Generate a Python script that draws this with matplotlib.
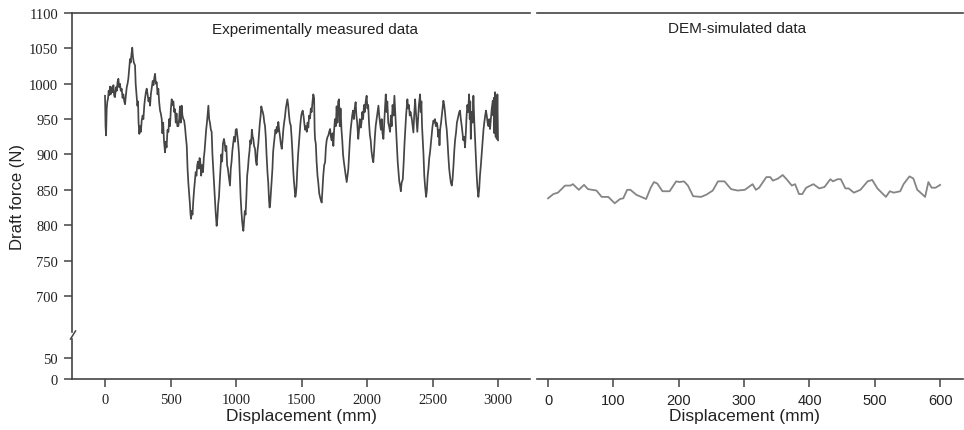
import numpy as np
import matplotlib
matplotlib.use("Agg")
import matplotlib.pyplot as plt

# datos (desplazamiento en mm, fuerza en N)
exp_x = [0, 4, 8, 13, 18, 23, 28, 33, 38, 43, 51, 58, 64, 70, 76, 84, 90, 96, 102, 108,
         114, 120, 127, 134, 140, 147, 153, 160, 166, 172, 178, 184, 191, 196, 202, 208, 213, 220, 229, 234,
         240, 247, 252, 256, 262, 268, 274, 280, 287, 293, 300, 306, 312, 318, 325, 332, 338, 344, 350, 357,
         364, 370, 376, 382, 388, 395, 401, 407, 413, 420, 426, 433, 438, 444, 450, 458, 464, 470, 477, 484,
         490, 496, 503, 509, 515, 522, 528, 534, 540, 546, 552, 560, 566, 572, 578, 585, 591, 598, 604, 611,
         617, 624, 630, 636, 642, 648, 653, 657, 662, 668, 674, 680, 686, 692, 698, 704, 710, 716, 722, 728,
         734, 740, 748, 754, 760, 766, 772, 778, 784, 789, 795, 801, 808, 814, 820, 826, 832, 838, 844, 848,
         852, 858, 864, 870, 876, 882, 888, 894, 900, 908, 914, 920, 926, 932, 938, 944, 950, 954, 960, 966,
         972, 978, 985, 992, 998, 1005, 1011, 1017, 1023, 1029, 1035, 1041, 1047, 1053, 1056, 1061, 1067, 1073, 1079, 1085,
         1091, 1097, 1103, 1109, 1115, 1121, 1127, 1132, 1138, 1145, 1152, 1158, 1164, 1170, 1176, 1182, 1188, 1193, 1198, 1204,
         1210, 1216, 1221, 1227, 1233, 1240, 1246, 1252, 1256, 1260, 1266, 1272, 1278, 1283, 1289, 1295, 1301, 1306, 1311, 1317,
         1323, 1329, 1336, 1342, 1349, 1355, 1361, 1367, 1373, 1380, 1386, 1392, 1398, 1405, 1411, 1418, 1424, 1430, 1436, 1442,
         1448, 1452, 1456, 1462, 1468, 1474, 1480, 1486, 1492, 1498, 1504, 1509, 1515, 1521, 1527, 1533, 1540, 1546, 1552, 1558,
         1565, 1571, 1577, 1584, 1590, 1596, 1600, 1603, 1609, 1615, 1622, 1628, 1635, 1641, 1648, 1654, 1660, 1666, 1673, 1680,
         1686, 1692, 1699, 1705, 1711, 1718, 1724, 1730, 1737, 1743, 1749, 1755, 1762, 1768, 1774, 1780, 1786, 1792, 1798, 1805,
         1811, 1817, 1823, 1830, 1836, 1845, 1851, 1857, 1863, 1869, 1875, 1881, 1887, 1893, 1900, 1906, 1913, 1919, 1925, 1933,
         1939, 1945, 1952, 1958, 1964, 1970, 1977, 1983, 1990, 1997, 2003, 2009, 2015, 2022, 2028, 2034, 2041, 2048, 2054, 2060,
         2066, 2073, 2080, 2087, 2093, 2099, 2106, 2112, 2118, 2125, 2131, 2137, 2143, 2149, 2155, 2162, 2168, 2176, 2182, 2188,
         2195, 2202, 2209, 2215, 2221, 2228, 2234, 2240, 2246, 2252, 2258, 2264, 2273, 2280, 2286, 2292, 2298, 2304, 2308, 2314,
         2320, 2326, 2332, 2342, 2348, 2354, 2360, 2367, 2373, 2379, 2384, 2390, 2396, 2405, 2410, 2415, 2420, 2425, 2431, 2437,
         2443, 2451, 2457, 2463, 2469, 2475, 2481, 2487, 2494, 2500, 2507, 2513, 2519, 2525, 2531, 2537, 2543, 2549, 2553, 2558,
         2565, 2571, 2577, 2583, 2589, 2595, 2602, 2608, 2614, 2620, 2627, 2633, 2640, 2647, 2653, 2660, 2666, 2672, 2680, 2686,
         2692, 2698, 2704, 2710, 2716, 2723, 2729, 2735, 2742, 2748, 2754, 2760, 2766, 2772, 2779, 2784, 2788, 2792, 2798, 2805,
         2812, 2818, 2824, 2830, 2836, 2842, 2850, 2856, 2862, 2869, 2876, 2882, 2889, 2895, 2902, 2908, 2914, 2920, 2927, 2933,
         2939, 2945, 2952, 2960, 2964, 2968, 2972, 2977, 2982, 2986, 2990, 2995, 3000]
exp_y = [983, 940, 927, 965, 975, 979, 990, 984, 996, 985, 995, 988, 998, 983, 981, 995, 990, 1003, 1007, 995,
         1000, 990, 993, 980, 985, 975, 971, 985, 995, 1000, 1007, 1020, 1035, 1030, 1042, 1051, 1038, 1030, 1026, 1000,
         985, 969, 975, 945, 929, 940, 932, 948, 955, 950, 970, 980, 988, 993, 985, 975, 980, 969, 985, 995,
         1004, 998, 1008, 1014, 1000, 1002, 985, 993, 975, 962, 958, 950, 930, 945, 920, 903, 918, 910, 935, 932,
         950, 940, 965, 978, 970, 975, 960, 964, 945, 958, 940, 940, 950, 968, 945, 969, 955, 950, 948, 938,
         925, 912, 880, 860, 845, 830, 815, 809, 820, 815, 835, 850, 862, 875, 870, 885, 890, 880, 895, 888,
         870, 885, 875, 895, 905, 920, 935, 945, 958, 969, 950, 945, 935, 932, 900, 880, 860, 840, 820, 810,
         799, 810, 830, 840, 862, 880, 900, 890, 915, 922, 915, 905, 912, 885, 880, 870, 862, 856, 880, 890,
         905, 915, 925, 918, 935, 936, 925, 915, 900, 870, 840, 820, 805, 795, 792, 805, 820, 815, 840, 870,
         880, 895, 905, 920, 915, 935, 925, 922, 912, 908, 890, 885, 905, 915, 930, 945, 955, 968, 964, 960,
         955, 945, 941, 925, 900, 875, 860, 835, 825, 828, 845, 860, 880, 903, 915, 925, 935, 930, 939, 932,
         946, 935, 925, 915, 908, 920, 935, 945, 952, 965, 972, 978, 970, 955, 945, 941, 925, 905, 880, 862,
         850, 840, 842, 855, 880, 900, 915, 930, 945, 955, 960, 962, 955, 945, 935, 940, 932, 945, 938, 955,
         951, 965, 960, 975, 985, 980, 935, 922, 915, 890, 870, 860, 845, 840, 835, 832, 850, 870, 885, 889,
         910, 920, 925, 927, 932, 936, 925, 920, 930, 912, 935, 950, 940, 968, 945, 975, 978, 940, 965, 935,
         920, 900, 890, 880, 872, 861, 870, 879, 900, 920, 935, 945, 955, 962, 950, 965, 974, 955, 945, 922,
         935, 950, 938, 945, 960, 950, 970, 960, 975, 983, 965, 970, 945, 927, 920, 905, 895, 889, 905, 925,
         940, 950, 960, 969, 955, 945, 935, 950, 930, 922, 945, 965, 985, 960, 975, 945, 940, 932, 955, 940,
         970, 955, 983, 960, 935, 910, 890, 875, 862, 856, 848, 860, 865, 890, 915, 935, 955, 970, 978, 965,
         970, 955, 960, 950, 940, 931, 955, 978, 960, 945, 932, 950, 970, 985, 960, 975, 940, 922, 900, 870,
         855, 840, 850, 870, 880, 895, 903, 915, 930, 940, 948, 945, 950, 940, 945, 941, 925, 935, 913, 935,
         945, 955, 965, 976, 970, 960, 945, 936, 920, 900, 880, 870, 860, 856, 865, 885, 905, 920, 932, 945,
         950, 955, 960, 962, 950, 940, 930, 920, 925, 910, 930, 955, 970, 960, 985, 950, 975, 922, 960, 945,
         983, 950, 925, 900, 875, 855, 840, 850, 870, 885, 903, 920, 935, 945, 955, 962, 955, 945, 940, 950,
         936, 950, 965, 976, 955, 980, 930, 988, 925, 975, 922, 985, 920]

dem_x = [0, 8, 15, 26, 34, 38, 47, 55, 61, 74, 82, 92, 102, 110, 115, 121, 126, 135, 150, 157,
         162, 167, 175, 186, 196, 201, 208, 214, 222, 234, 242, 252, 260, 266, 270, 280, 290, 301, 313, 318,
         323, 334, 340, 344, 352, 359, 365, 373, 378, 384, 389, 395, 406, 415, 423, 432, 436, 443, 448, 455,
         460, 468, 478, 489, 496, 504, 517, 523, 529, 539, 544, 553, 559, 565, 570, 577, 582, 587, 593, 600]
dem_y = [838, 844, 846, 856, 856, 858, 850, 857, 851, 849, 840, 840, 831, 837, 838, 850, 850, 843, 837, 853,
         861, 859, 848, 848, 862, 861, 862, 856, 841, 840, 843, 849, 862, 862, 862, 851, 849, 850, 858, 850,
         853, 868, 868, 863, 866, 871, 865, 856, 858, 844, 844, 853, 858, 852, 854, 865, 862, 865, 865, 852,
         852, 846, 850, 862, 864, 852, 840, 848, 846, 848, 858, 869, 866, 850, 846, 840, 861, 853, 853, 857]

exp_xticks = [0, 500, 1000, 1500, 2000, 2500, 3000]
dem_xticks = [0, 100, 200, 300, 400, 500, 600]
top_yticks = [700, 750, 800, 850, 900, 950, 1000, 1050, 1100]
low_yticks = [0, 50]

W, H = 964, 431
fig = plt.figure(figsize=(W / 100, H / 100), dpi=100)

def caja(x0, x1, y0, y1):
    # de pixeles a fraccion de figura
    return [x0 / W, 1 - y1 / H, (x1 - x0) / W, (y1 - y0) / H]

gris = '#444444'
lw_sp = 1.2
serif = 'Liberation Serif'
sans = 'Liberation Sans'

ax_et = fig.add_axes(caja(72, 530, 14, 333))   # experimental, arriba
ax_eb = fig.add_axes(caja(72, 530, 340, 380))  # experimental, abajo
ax_dt = fig.add_axes(caja(537, 963, 14, 333))  # DEM, arriba
ax_db = fig.add_axes(caja(537, 963, 340, 380))  # DEM, abajo

for ax in (ax_et, ax_eb, ax_dt, ax_db):
    ax.set_facecolor('none')
    for s in ax.spines.values():
        s.set_visible(False)
        s.set_linewidth(lw_sp)
        s.set_color(gris)
    ax.tick_params(direction='out', length=6, width=1.1, color=gris,
                   labelcolor='#222222', labelsize=10.5, pad=4)

ax_et.set_xlim(-252, 3244)
ax_eb.set_xlim(-252, 3244)
ax_dt.set_xlim(-17, 635)
ax_db.set_xlim(-17, 635)
for ax in (ax_et, ax_dt):
    ax.set_ylim(649, 1100)
for ax in (ax_eb, ax_db):
    ax.set_ylim(0, 95)

ax_et.plot(exp_x, exp_y, color='#454545', lw=1.25)
ax_dt.plot(dem_x, dem_y, color='#858585', lw=1.3)

# ejes y solo en el panel izquierdo
ax_et.spines['left'].set_visible(True)
ax_et.spines['top'].set_visible(True)
ax_eb.spines['left'].set_visible(True)
ax_eb.spines['bottom'].set_visible(True)
ax_dt.spines['top'].set_visible(True)
ax_db.spines['bottom'].set_visible(True)

ax_et.set_yticks(top_yticks)
ax_eb.set_yticks(low_yticks)
ax_et.set_xticks([])
ax_dt.set_xticks([])
ax_dt.set_yticks([])
ax_db.set_yticks([])
ax_eb.set_xticks(exp_xticks)
ax_db.set_xticks(dem_xticks)

for ax in (ax_et, ax_eb):
    for t in ax.get_yticklabels():
        t.set_fontfamily(serif)
for t in ax_eb.get_xticklabels():
    t.set_fontfamily(serif)
for t in ax_db.get_xticklabels():
    t.set_fontfamily(sans)

# marca de corte en el eje y
fig.add_artist(plt.Line2D([70.5 / W, 75.5 / W], [1 - 340 / H, 1 - 332 / H],
                          color=gris, lw=1.1))

fig.text(18 / W, 1 - 197 / H, 'Draft force (N)', rotation=90, ha='center', va='center',
         fontsize=12, family=sans, color='#222222')
fig.text(301 / W, 1 - 417 / H, 'Displacement (mm)', ha='center', va='center',
         fontsize=12.5, family=sans, color='#222222')
fig.text(744 / W, 1 - 417 / H, 'Displacement (mm)', ha='center', va='center',
         fontsize=12.5, family=sans, color='#222222')
fig.text(315 / W, 1 - 30 / H, 'Experimentally measured data', ha='center', va='center',
         fontsize=11, family=sans, color='#222222')
fig.text(737 / W, 1 - 29 / H, 'DEM-simulated data', ha='center', va='center',
         fontsize=11, family=sans, color='#222222')

fig.savefig('out.png', dpi=100)
